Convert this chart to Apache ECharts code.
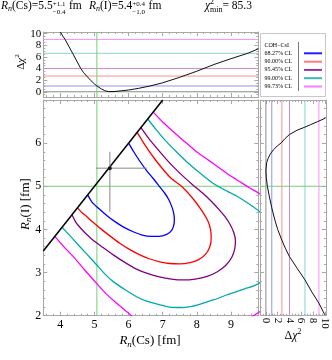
<!DOCTYPE html>
<html><head><meta charset="utf-8">
<script src="https://cdn.jsdelivr.net/npm/echarts@6/dist/echarts.min.js"></script>
<style>html,body{margin:0;padding:0;background:#fff}#c{width:332px;height:360px}</style>
</head><body><div id="c"></div>
<script>
// ---------------- data ----------------
const xTickLabels = [4, 5, 6, 7, 8, 9];
const yTickLabels = [2, 3, 4, 5, 6];
const chi2TickLabels = [0, 2, 4, 6, 8, 10];
const clNames = ['68.27% CL', '90.00% CL', '95.45% CL', '99.00% CL', '99.73% CL'];
const chi2Levels = [1.0, 2.71, 4.0, 6.63, 9.0];
const refCs = 5.07;
const refI = 5.0;
const bestCs = 5.45, bestCsErrLo = 0.41, bestCsErrHi = 1.09;
const bestI = 5.42, bestIErrLo = 1.01, bestIErrHi = 0.38;
const boundaryLine = [[3.5, 3.5], [7.0, 7.0]];

const contour6827 = [[6.0,6.0],[6.15,5.8],[6.33,5.58],[6.52,5.37],[6.72,5.18],[6.9,5.0],[7.05,4.85],[7.17,4.7],[7.26,4.54],[7.32,4.38],[7.34,4.22],[7.31,4.06],[7.23,3.95],[7.1,3.88],[6.9,3.84],[6.65,3.84],[6.4,3.87],[6.15,3.94],[5.84,4.06],[5.6,4.18],[5.35,4.33],[5.1,4.5],[4.92,4.64],[4.8,4.8]];
const contour9000 = [[6.25,6.25],[6.5,5.93],[6.75,5.65],[7.0,5.4],[7.25,5.18],[7.55,5.0],[7.9,4.7],[8.15,4.43],[8.32,4.2],[8.4,4.0],[8.42,3.8],[8.38,3.6],[8.25,3.42],[8.05,3.3],[7.8,3.23],[7.5,3.2],[7.2,3.21],[6.91,3.25],[6.6,3.32],[6.33,3.41],[6.0,3.55],[5.74,3.68],[5.45,3.85],[5.16,4.03],[4.95,4.17],[4.77,4.3],[4.62,4.4],[4.5,4.5]];
const contour9545 = [[6.36,6.36],[6.6,6.1],[6.85,5.86],[7.1,5.63],[7.35,5.42],[7.6,5.23],[7.9,5.02],[8.2,4.82],[8.45,4.63],[8.65,4.46],[8.82,4.3],[8.97,4.12],[9.08,3.93],[9.13,3.75],[9.11,3.55],[9.02,3.35],[8.85,3.17],[8.6,3.02],[8.3,2.91],[7.95,2.85],[7.6,2.83],[7.25,2.85],[6.9,2.9],[6.55,2.98],[6.23,3.08],[5.9,3.23],[5.55,3.41],[5.25,3.58],[4.96,3.75],[4.75,3.9],[4.57,4.05],[4.45,4.17],[4.34,4.34]];
const contour9900 = [[6.56,6.56],[6.8,6.32],[7.1,6.04],[7.4,5.8],[7.7,5.57],[8.1,5.3],[8.45,5.08],[8.8,4.92],[9.15,4.78],[9.4,4.66],[9.64,4.53],[9.85,4.4],[10.4,3.6],[9.85,2.77],[9.4,2.62],[8.87,2.48],[8.5,2.37],[8.1,2.27],[7.8,2.21],[7.55,2.19],[7.2,2.2],[6.92,2.25],[6.55,2.33],[6.23,2.44],[5.9,2.6],[5.55,2.79],[5.3,2.97],[5.06,3.18],[4.75,3.45],[4.48,3.68],[4.25,3.88],[4.05,4.05]];
const contour9973 = [[6.72,6.72],[7.0,6.49],[7.3,6.27],[7.65,6.03],[7.99,5.8],[8.35,5.6],[8.67,5.42],[8.95,5.26],[9.25,5.11],[9.55,4.96],[9.85,4.82],[10.6,4.0],[10.6,2.6],[9.85,2.1],[9.6,1.97],[9.0,1.6],[7.5,1.2],[6.4,1.6],[6.08,2.0],[5.9,2.12],[5.65,2.29],[5.35,2.5],[5.06,2.75],[4.7,3.07],[4.38,3.37],[4.1,3.6],[3.84,3.84]];

const profCsX    = [4.0, 4.07, 4.14, 4.25, 4.36, 4.48, 4.6, 4.68, 4.77, 4.9, 5.0, 5.07, 5.2, 5.3, 5.4, 5.45, 5.6, 5.8, 6.0, 6.3, 6.63, 7.0, 7.5, 8.0, 8.5, 9.0, 9.5, 9.8];
const profCsChi2 = [10.3, 9.6, 9.0, 7.8, 6.63, 5.3, 4.0, 3.3, 2.71, 1.9, 1.35, 1.0, 0.5, 0.2, 0.03, 0.0, 0.05, 0.18, 0.3, 0.6, 1.0, 1.55, 2.5, 3.55, 4.7, 5.7, 6.65, 7.4];
const profIY     = [2.02, 2.29, 2.55, 2.83, 3.1, 3.37, 3.55, 3.75, 4.0, 4.22, 4.5, 4.75, 5.0, 5.2, 5.38, 5.55, 5.65, 5.75, 5.84, 5.93, 6.02, 6.1, 6.2, 6.3, 6.37, 6.43, 6.5, 6.58];
const profIChi2  = [10.0, 9.0, 7.8, 6.63, 5.3, 4.0, 3.35, 2.71, 2.0, 1.52, 1.0, 0.6, 0.25, 0.07, 0.0, 0.13, 0.39, 0.75, 1.24, 1.9, 2.71, 3.2, 4.0, 5.3, 6.6, 7.6, 8.8, 10.1];

// ---------------- styling ----------------
const contourColors = ['#0000ff', '#ff0000', '#800080', '#00aaaa', '#ff00ff'];
const levelColors = ['#9090ff', '#ff9090', '#c88cc8', '#88d4d4', '#ff90ff'];
const swatchColors = ['#2020ff', '#ff7a7a', '#993399', '#3ab8b8', '#ff7aff'];
const zeroColor = '#8a8a8a';
const greenColor = '#74d074';
const FRAME = '#a8a8a8';
const SERIF = '"Liberation Serif", "Times New Roman", serif';

const X_MIN = 3.5, X_MAX = 9.8, Y_MIN = 2, Y_MAX = 7;
const C_MIN_TOP = -0.9, C_MAX_TOP = 10.3;
const C_MIN_R = -1.0, C_MAX_R = 10.2;

function range(a, b, step, skip) {
  const out = [];
  for (let i = 0; a + i * step <= b + 1e-9; i++) {
    const v = Math.round((a + i * step) * 1000) / 1000;
    if (!skip || !skip(v)) out.push(v);
  }
  return out;
}
const isInt = v => Math.abs(v - Math.round(v)) < 1e-6;
const isEven = v => Math.abs(v / 2 - Math.round(v / 2)) < 1e-6;
const xMajor = range(4, 9, 1);
const xMinor = range(3.6, 9.8, 0.2, isInt);
const yMajor = range(2, 7, 1);
const yMinor = range(2.2, 6.8, 0.2, isInt);
const cMajor = range(0, 10, 2);
const cMinor = range(-0.5, 10, 0.5, isEven);

function axisSet(gridIndex, dim, min, max, major, minor, labelVals, labelOpt) {
  const out = [];
  const sides = dim === 'x' ? ['bottom', 'top'] : ['left', 'right'];
  sides.forEach((side, k) => {
    [major, minor].forEach((vals, j) => {
      const showLabel = k === 0 && j === 0 && labelVals;
      out.push({
        type: 'value', gridIndex, position: side, min, max,
        splitLine: { show: false }, splitArea: { show: false },
        axisLine: { show: j === 0, onZero: false, lineStyle: { color: FRAME, width: 1 } },
        axisTick: { show: true, inside: true, length: j === 0 ? 4 : 2, customValues: vals, lineStyle: { color: FRAME, width: 1 } },
        axisLabel: showLabel ? Object.assign({ show: true, customValues: labelVals, color: '#000', fontFamily: SERIF, fontSize: 12 }, labelOpt) : { show: false },
        axisPointer: { show: false }
      });
    });
  });
  return out;
}

function lineS(data, color, width, gi, extra) {
  return Object.assign({
    type: 'line', data, xAxisIndex: gi * 4, yAxisIndex: gi * 4,
    showSymbol: false, symbol: 'none', silent: true, animation: false, clip: true,
    lineStyle: { color, width }, itemStyle: { color }, z: 2
  }, extra || {});
}

// ---------------- text helpers ----------------
const mctx = document.createElement('canvas').getContext('2d');
function fontOf(s, it) { return (it ? 'italic ' : '') + s + 'px ' + SERIF; }
function tw(t, s, it) { mctx.font = fontOf(s, it); return mctx.measureText(t).width; }
function T(t, s, it, x, dy) {
  return { type: 'text', x: x, y: (dy || 0) - 0.34 * s, silent: true,
    style: { text: t, font: fontOf(s, it), fill: '#000', textAlign: 'left', textVerticalAlign: 'middle', align: 'left', verticalAlign: 'middle' } };
}
function mathGroup(pieces, x, y, opts) {
  opts = opts || {};
  const kids = []; let cx = 0;
  pieces.forEach(p => {
    if (p.gap) { cx += p.gap; return; }
    if (p.sup !== undefined) {
      kids.push(T(p.sup, p.s, p.it, cx, p.supDy));
      kids.push(T(p.sub, p.s, p.it, cx, p.subDy));
      cx += Math.max(tw(p.sup, p.s, p.it), tw(p.sub, p.s, p.it));
    } else {
      kids.push(T(p.t, p.s, p.it, cx, p.dy || 0));
      cx += tw(p.t, p.s, p.it);
    }
  });
  const shift = opts.center ? -cx / 2 : 0;
  kids.forEach(k => { k.x += shift; });
  return { type: 'group', x, y, rotation: opts.rotation || 0, children: kids, silent: true };
}

// ---------------- series ----------------
const series = [];
// top panel (grid 0)
series.push(lineS([[X_MIN, 0], [X_MAX, 0]], zeroColor, 1, 0));
chi2Levels.forEach((L, i) => series.push(lineS([[X_MIN, L], [X_MAX, L]], levelColors[i], 1, 0)));
series.push(lineS([[refCs, C_MIN_TOP], [refCs, C_MAX_TOP]], greenColor, 1, 0));
series.push(lineS(profCsX.map((x, i) => [x, profCsChi2[i]]), '#111', 1, 0, { z: 3 }));

// main panel (grid 1)
series.push(lineS([[refCs, Y_MIN], [refCs, Y_MAX]], greenColor, 1, 1));
series.push(lineS([[X_MIN, refI], [X_MAX, refI]], greenColor, 1, 1));
[contour6827, contour9000, contour9545, contour9900, contour9973].forEach((c, i) =>
  series.push(lineS(c, contourColors[i], 1.3, 1, { smooth: 0.2, z: 3 })));
series.push(lineS(boundaryLine, '#000', 1.5, 1, { z: 4 }));
series.push(lineS([[bestCs - bestCsErrLo, bestI], [bestCs + bestCsErrHi, bestI]], '#8a8a8a', 1, 1, { z: 4 }));
series.push(lineS([[bestCs, bestI - bestIErrLo], [bestCs, bestI + bestIErrHi]], '#8a8a8a', 1, 1, { z: 4 }));
series.push({ type: 'scatter', xAxisIndex: 4, yAxisIndex: 4, data: [[bestCs, bestI]], symbolSize: 4,
  itemStyle: { color: '#000' }, silent: true, animation: false, z: 5 });

// right panel (grid 2)
series.push(lineS([[0, Y_MIN], [0, Y_MAX]], zeroColor, 1, 2));
chi2Levels.forEach((L, i) => series.push(lineS([[L, Y_MIN], [L, Y_MAX]], levelColors[i], 1, 2)));
series.push(lineS([[C_MIN_R, refI], [C_MAX_R, refI]], greenColor, 1, 2));
series.push(lineS(profIY.map((y, i) => [profIChi2[i], y]), '#111', 1, 2, { z: 3 }));

// ---------------- graphics (titles, legend) ----------------
const g = [];
const base = 9.5;
const TS = 11.5;
const Rn = [{ t: 'R', s: TS, it: 1 }, { t: 'n', s: 8, it: 1, dy: 2.5 }];
g.push(mathGroup([...Rn, { t: '(Cs)=5.5', s: TS }, { sup: '+1.1', sub: '\u22120.4', s: 7, supDy: -3, subDy: 5.5 }, { gap: 3.5 }, { t: 'fm', s: TS }], 1, base));
g.push(mathGroup([...Rn, { t: '(I)=5.4', s: TS }, { sup: '+0.4', sub: '\u22121.0', s: 7, supDy: -3, subDy: 5.5 }, { gap: 3.5 }, { t: 'fm', s: TS }], 89, base));
g.push(mathGroup([{ t: '\u03c7', s: TS, it: 1 }, { sup: '2', sub: 'min', s: 8, supDy: -4.5, subDy: 3 }, { t: '= 85.3', s: TS }], 205, base));

// axis titles
const Rn13 = [{ t: 'R', s: 13, it: 1 }, { t: 'n', s: 9, it: 1, dy: 2.5 }];
g.push(mathGroup([...Rn13, { t: '(Cs) [fm]', s: 13 }], 150, 345, { center: true }));
g.push(mathGroup([...Rn13, { t: '(I) [fm]', s: 13 }], 29.5, 204, { center: true, rotation: Math.PI / 2 }));
const dchi = s => [{ t: '\u0394', s }, { t: '\u03c7', s, it: 1 }, { t: '2', s: s * 0.65, dy: -s * 0.42 }];
g.push(mathGroup(dchi(11), 24.5, 62, { center: true, rotation: Math.PI / 2 }));
g.push(mathGroup(dchi(12), 293, 340, { center: true }));

// legend box
const LX = 260.5, LY = 33.5;
g.push({ type: 'rect', shape: { x: LX, y: LY, width: 65, height: 63 }, style: { fill: '#fff', stroke: '#c8c8c8', lineWidth: 1 }, silent: true });
g.push({ type: 'text', x: 264.5, y: 45, silent: true, style: { text: 'COH\u2212CsI', font: '6px ' + SERIF, fill: '#000', textAlign: 'left', textVerticalAlign: 'middle', align: 'left', verticalAlign: 'middle' } });
g.push({ type: 'line', shape: { x1: 298.5, y1: 42, x2: 298.5, y2: 91 }, style: { stroke: '#777', lineWidth: 1 }, silent: true });
const rowY = [53.3, 61.7, 69.9, 78.2, 86.5];
clNames.forEach((name, i) => {
  g.push({ type: 'text', x: 264.5, y: rowY[i], silent: true, style: { text: name, font: '6px ' + SERIF, fill: '#000', textAlign: 'left', textVerticalAlign: 'middle', align: 'left', verticalAlign: 'middle' } });
  g.push({ type: 'line', shape: { x1: 304, y1: rowY[i], x2: 322, y2: rowY[i] }, style: { stroke: swatchColors[i], lineWidth: 2 }, silent: true });
});

// ---------------- option ----------------
const option = {
  animation: false,
  backgroundColor: '#fff',
  grid: [
    { left: 43.3, top: 32, width: 215, height: 65, containLabel: false, outerBoundsMode: 'none' },
    { left: 43.3, top: 100, width: 215, height: 215.7, containLabel: false, outerBoundsMode: 'none' },
    { left: 260, top: 100, width: 66, height: 215.7, containLabel: false, outerBoundsMode: 'none' }
  ],
  xAxis: [
    ...axisSet(0, 'x', X_MIN, X_MAX, xMajor, xMinor, null),
    ...axisSet(1, 'x', X_MIN, X_MAX, xMajor, xMinor, xTickLabels, { margin: 3 }),
    ...axisSet(2, 'x', C_MIN_R, C_MAX_R, cMajor, cMinor, chi2TickLabels, { margin: 2, rotate: -90, fontSize: 11 })
  ],
  yAxis: [
    ...axisSet(0, 'y', C_MIN_TOP, C_MAX_TOP, cMajor, cMinor, chi2TickLabels, { margin: 2, fontSize: 11 }),
    ...axisSet(1, 'y', Y_MIN, Y_MAX, yMajor, yMinor, yTickLabels, { margin: 2 }),
    ...axisSet(2, 'y', Y_MIN, Y_MAX, yMajor, yMinor, null)
  ],
  series,
  graphic: { elements: g }
};
const chart = echarts.init(document.getElementById('c'), null, { renderer: 'canvas' });
chart.setOption(option);
</script>
</body></html>
